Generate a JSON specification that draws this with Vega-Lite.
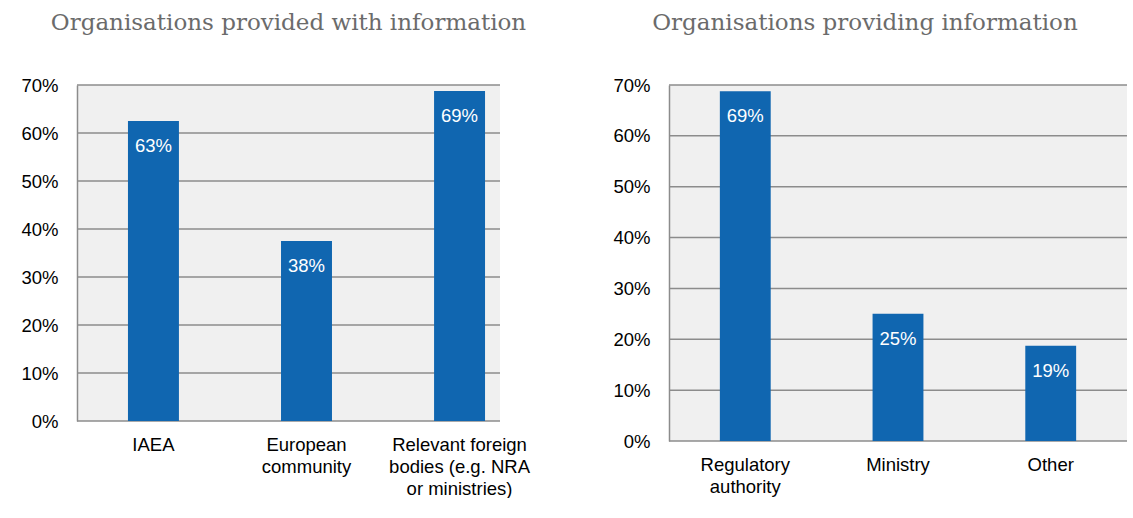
{
  "$schema": "https://vega.github.io/schema/vega-lite/v6.json",
  "background": "white",
  "padding": {"left": 20, "top": 12, "right": 0, "bottom": 0},
  "bounds": "flush",
  "spacing": 169,
  "config": {
    "view": {"fill": "#f0f0f0", "stroke": null},
    "font": "Liberation Sans",
    "title": {"font": "DejaVu Serif", "fontSize": 23, "fontWeight": "normal", "color": "#6b6b6b", "offset": 41, "anchor": "middle"},
    "axis": {"labelFont": "Liberation Sans", "labelFontSize": 18.5, "labelColor": "#000000", "ticks": false, "title": null},
    "axisY": {"grid": false, "domainColor": "#8c8c8c", "domainWidth": 1.5, "labelPadding": 19, "format": ".0%", "values": [0, 0.1, 0.2, 0.3, 0.4, 0.5, 0.6, 0.7]},
    "axisX": {"domain": false, "grid": false, "labelAngle": 0, "labelPadding": 14, "labelLineHeight": 22, "labelBaseline": "top",
      "labelExpr": "datum.label == 'European community' ? ['European', 'community'] : datum.label == 'Relevant foreign bodies (e.g. NRA or ministries)' ? ['Relevant foreign', 'bodies (e.g. NRA', 'or ministries)'] : datum.label == 'Regulatory authority' ? ['Regulatory', 'authority'] : datum.label"}
  },
  "datasets": {
    "provided": [
      {"org": "IAEA", "share": 0.625},
      {"org": "European community", "share": 0.375},
      {"org": "Relevant foreign bodies (e.g. NRA or ministries)", "share": 0.6875}
    ],
    "providing": [
      {"org": "Regulatory authority", "share": 0.6875},
      {"org": "Ministry", "share": 0.25},
      {"org": "Other", "share": 0.1875}
    ],
    "gridlines": [
      {"g": 0}, {"g": 0.1}, {"g": 0.2}, {"g": 0.3}, {"g": 0.4}, {"g": 0.5}, {"g": 0.6}, {"g": 0.7}
    ]
  },
  "hconcat": [
    {
      "title": {"text": "Organisations provided with information"},
      "width": 423,
      "height": 336,
      "layer": [
        {"data": {"name": "gridlines"}, "mark": {"type": "rule", "color": "#8c8c8c", "strokeWidth": 1.5},
         "encoding": {"y": {"field": "g", "type": "quantitative", "scale": {"domain": [0, 0.7]}}}},
        {"data": {"name": "provided"}, "mark": {"type": "bar", "color": "#1066b0"},
         "encoding": {
           "x": {"field": "org", "type": "nominal", "sort": null, "scale": {"range": [0, 459], "paddingInner": 0.667, "paddingOuter": 0.333}},
           "y": {"field": "share", "type": "quantitative"}
         }},
        {"data": {"name": "provided"}, "mark": {"type": "text", "color": "white", "baseline": "top", "dy": 16, "fontSize": 18.5, "font": "Liberation Sans"},
         "encoding": {
           "x": {"field": "org", "type": "nominal", "sort": null},
           "y": {"field": "share", "type": "quantitative"},
           "text": {"field": "share", "type": "quantitative", "format": ".0%"}
         }}
      ]
    },
    {
      "title": {"text": "Organisations providing information", "dx": -33},
      "width": 458,
      "height": 356,
      "layer": [
        {"data": {"name": "gridlines"}, "mark": {"type": "rule", "color": "#8c8c8c", "strokeWidth": 1.5},
         "encoding": {"y": {"field": "g", "type": "quantitative", "scale": {"domain": [0, 0.7]}}}},
        {"data": {"name": "providing"}, "mark": {"type": "bar", "color": "#1066b0"},
         "encoding": {
           "x": {"field": "org", "type": "nominal", "sort": null, "scale": {"range": [0, 458], "paddingInner": 0.667, "paddingOuter": 0.333}},
           "y": {"field": "share", "type": "quantitative"}
         }},
        {"data": {"name": "providing"}, "mark": {"type": "text", "color": "white", "baseline": "top", "dy": 16, "fontSize": 18.5, "font": "Liberation Sans"},
         "encoding": {
           "x": {"field": "org", "type": "nominal", "sort": null},
           "y": {"field": "share", "type": "quantitative"},
           "text": {"field": "share", "type": "quantitative", "format": ".0%"}
         }}
      ]
    }
  ]
}
